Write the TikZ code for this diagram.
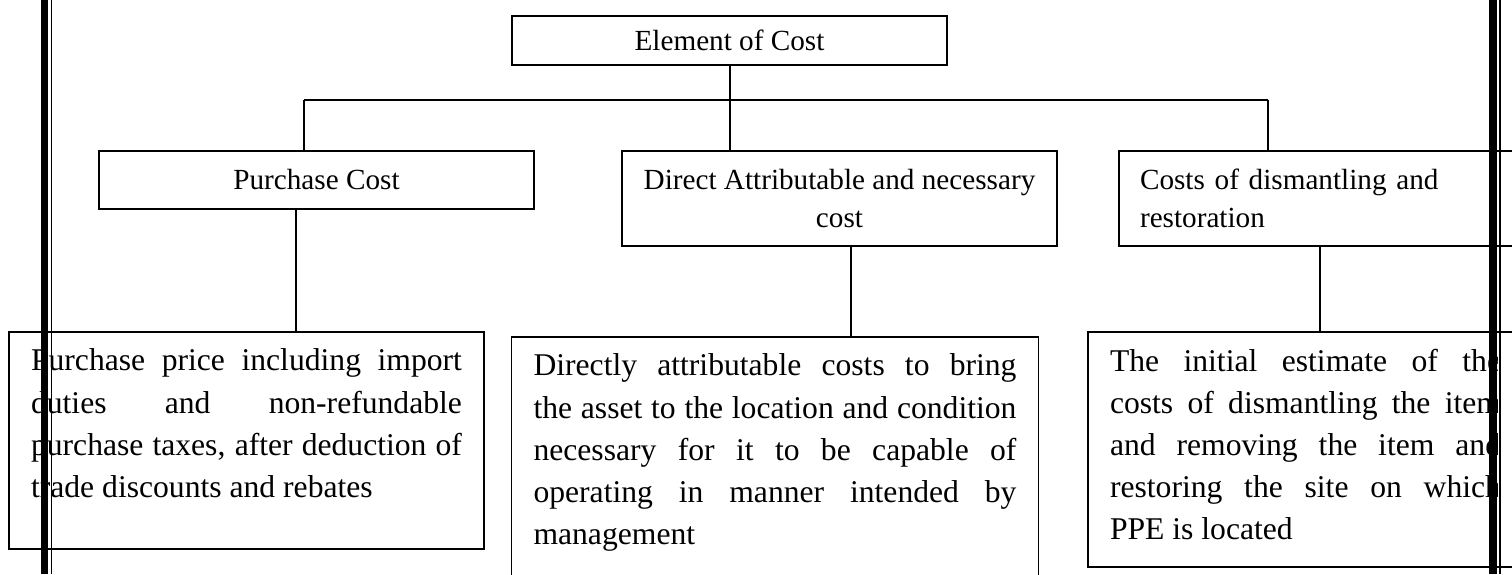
\documentclass[tikz,border=0pt]{standalone}
\usepackage{fontspec}
\setmainfont{Liberation Serif}
\usepackage{tikz}

\newcommand{\bodytext}[3]{\parbox[c][#1][t]{#2}{\vspace*{7pt}#3}}

\begin{document}
\begin{tikzpicture}[x=0.411pt,y=-0.411pt,line width=0.6pt,
  headbox/.style={shape=rectangle,draw,inner sep=0pt,minimum width=178.8pt,font=\fontsize{12}{15.6}\selectfont},
  descbox/.style={shape=rectangle,draw,inner xsep=9pt,inner ysep=0pt,font=\fontsize{13}{17.3}\selectfont}]
\useasboundingbox (0,0) rectangle (1512,574);
\clip (0,0) rectangle (1512,574);

\path (729.5,40.5) node (elem) [headbox,minimum height=20.1pt] {Element of Cost};
\path (316.5,180) node (purchase) [headbox,minimum height=23.8pt] {Purchase Cost};
\path (839.5,198.5) node (direct) [headbox,minimum height=39pt,align=center] {Direct Attributable and necessary\\cost};
\path (1336.5,198.5) node (costs) [headbox,minimum height=39pt,text width=161.5pt,inner xsep=8.6pt,align=left] {Costs of dismantling and\\restoration};

\path (246.5,440.5) node (price) [descbox] {\bodytext{89.2pt}{177.1pt}{Purchase price including import\linebreak duties and non-refundable\linebreak purchase taxes, after deduction of\linebreak trade discounts and rebates}};
\path (775,464.5) node (attrib) [descbox] {\bodytext{104.8pt}{198.5pt}{Directly attributable costs to bring\linebreak the asset to the location and condition\linebreak necessary for it to be capable of\linebreak operating in manner intended by\linebreak management}};
\path (1305.5,449.5) node (dismantle) [descbox] {\bodytext{96.6pt}{160.7pt}{The initial estimate of the\linebreak costs of dismantling the item\linebreak and removing the item and\linebreak restoring the site on which\linebreak PPE is located}};

% tree lines
\coordinate (busL) at (304,100);
\coordinate (busM) at (730,100);
\coordinate (busR) at (1268,100);
\coordinate (dropP) at (296,300);
\coordinate (dropD) at (851,300);
\coordinate (dropC) at (1320,300);

\draw (busM |- elem.south) to (busM);
\draw (busL) to (busR);
\draw (busL) to (busL |- purchase.north);
\draw (busM) to (busM |- direct.north);
\draw (busR) to (busR |- costs.north);
\draw (dropP |- purchase.south) to (dropP |- price.north);
\draw (dropD |- direct.south) to (dropD |- attrib.north);
\draw (dropC |- costs.south) to (dropC |- dismantle.north);

% page border
\fill [white] (1497.5,333.5) rectangle (1512,565.5);
\draw [line width=3pt] (44.2,0) -- (44.2,574);
\draw (51.3,0) -- (51.3,574);
\draw [line width=3.2pt] (1493,0) -- (1493,574);
\draw (1500.2,0) -- (1500.2,574);
\end{tikzpicture}
\end{document}
